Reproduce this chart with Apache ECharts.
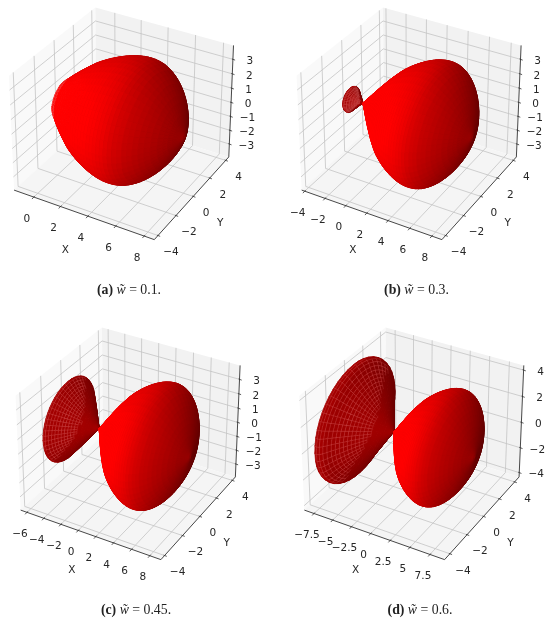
<!DOCTYPE html>
<html><head><meta charset="utf-8">
<style>html,body{margin:0;padding:0;background:#fff}#c{width:550px;height:621px}</style>
<script src="https://cdn.jsdelivr.net/npm/echarts@6/dist/echarts.min.js"></script>
</head><body><div id="c"></div>
<script>
// ---- values ----
const xTicksA=[0,2,4,6,8], xTicksB=[-4,-2,0,2,4,6,8], xTicksC=[-6,-4,-2,0,2,4,6,8], xTicksD=[-7.5,-5,-2.5,0,2.5,5,7.5];
const yTicks=[-4,-2,0,2,4];
const zTicksABC=[-3,-2,-1,0,1,2,3], zTicksD=[-4,-2,0,2,4];
const xLimA=[-1.5,8.7], xLimB=[-4.3,8.9], xLimC=[-6.75,9.2], xLimD=[-8.8,9.3];
const yLimABC=[-4.4,4.4], yLimD=[-4.6,4.6];
const zLimABC=[-3.95,3.95], zLimD=[-4.35,4.35];
const apexX=-2.35;
const rightT=[0,.1,.2,.35,.5,.75,1,1.25,1.5,1.75,2,2.25,2.5,2.75,3,3.25,3.5,3.75,4,4.25,4.5,4.75,5,5.25,5.5,5.75,6,6.25,6.5,6.75,7,7.25,7.5,7.75,8,8.25,8.5,8.75,9,9.25,9.5,9.7,9.85,10,10.1,10.2,10.3,10.35];
const rightR=[0,.085,.17,.3,.42,.63,.85,1.06,1.27,1.48,1.68,1.88,2.08,2.27,2.45,2.63,2.8,2.94,3.07,3.19,3.3,3.4,3.49,3.57,3.64,3.7,3.74,3.77,3.78,3.77,3.74,3.68,3.59,3.47,3.33,3.15,2.95,2.72,2.45,2.15,1.8,1.47,1.2,.88,.65,.42,.19,0];
const capXA=[-1.12,-1.1,-1.05,-.95,-.8,-.6,-.4], capRA=[0,.5,.85,1.12,1.3,1.45,1.62];
const leftTB=[0,.1,.2,.35,.5,.65,.8,.95,1.1,1.22,1.32,1.4,1.46,1.5];
const leftRB=[0,.075,.15,.27,.38,.49,.6,.72,.8,.78,.7,.55,.35,0];
const leftTC=[0,.1,.2,.4,.6,.8,1,1.2,1.4,1.6,1.8,2,2.2,2.4,2.6,2.8,3,3.2,3.4,3.55,3.7,3.8,3.9,3.95];
const leftRC=[0,.08,.16,.31,.47,.62,.78,.93,1.09,1.24,1.4,1.55,1.7,1.85,2,2.15,2.3,2.45,2.6,2.65,2.55,2.25,1.5,0];
const leftTD=[0,.1,.25,.5,.75,1,1.25,1.5,1.75,2,2.25,2.5,2.75,3,3.25,3.5,3.75,4,4.25,4.5,4.75,5,5.25,5.5,5.7,5.85,5.95,6];
const leftRD=[0,.09,.22,.44,.65,.87,1.09,1.3,1.52,1.74,1.96,2.17,2.39,2.61,2.83,3.05,3.27,3.5,3.75,3.98,4.15,4.22,4.2,3.95,3.4,2.7,1.8,0];
const captionTags=['(a)','(b)','(c)','(d)'], captionValues=['0.1','0.3','0.45','0.6'];
// ---- profiles assembled from the tables above ----
function twoLobes(lt,lr){
  return {sx:lt.map(t=>apexX-t).reverse().concat(rightT.slice(1).map(t=>apexX+t)), r:lr.slice().reverse().concat(rightR.slice(1))};
}
const lobeA={sx:capXA.concat(rightT.slice(10).map(t=>apexX+t)), r:capRA.concat(rightR.slice(10))};
// ---- layout ----
const panels=[
 Object.assign({cx:123.4,cy:118,cap:[124,287],xT:xTicksA,zT:zTicksABC,xL:xLimA,yL:yLimABC,zL:zLimABC,meshX:-.38,minArea:1},lobeA),
 Object.assign({cx:411,cy:118,cap:[411.5,287],xT:xTicksB,zT:zTicksABC,xL:xLimB,yL:yLimABC,zL:zLimABC,meshX:apexX,minArea:1},twoLobes(leftTB,leftRB)),
 Object.assign({cx:130,cy:438,cap:[131,607],xT:xTicksC,zT:zTicksABC,xL:xLimC,yL:yLimABC,zL:zLimABC,meshX:apexX,minArea:7},twoLobes(leftTC,leftRC)),
 Object.assign({cx:413.7,cy:438,cap:[415,607],xT:xTicksD,zT:zTicksD,xL:xLimD,yL:yLimD,zL:zLimD,meshX:apexX,minArea:10},twoLobes(leftTD,leftRD))
];
const BOX=[1.19,1.19,.893], KX=135, KY=146, AZ=48;
const LIGHT=[-.667,-.667,.333];
function view(p,x,y,z){
  const a=((x-p.xL[0])/(p.xL[1]-p.xL[0])-.5)*BOX[0], b=((y-p.yL[0])/(p.yL[1]-p.yL[0])-.5)*BOX[1], c=((z-p.zL[0])/(p.zL[1]-p.zL[0])-.5)*BOX[2];
  const xv=.866*a+.5*b, yv=-.25*a+.433*b+.866*c, zv=.433*a-.75*b+.5*c, f=10/(10-zv);
  return {sx:p.cx+KX*xv*f, sy:p.cy-KY*yv*f, d:zv};
}
function frame(p){
  const [x0,x1]=p.xL,[y0,y1]=p.yL,[z0,z1]=p.zL, L=[];
  const P=(x,y,z)=>{const v=view(p,x,y,z);return [v.sx,v.sy];};
  L.push({k:'poly',pts:[P(x0,y0,z0),P(x0,y1,z0),P(x0,y1,z1),P(x0,y0,z1)],c:'#f9f9f9'});
  L.push({k:'poly',pts:[P(x0,y1,z0),P(x1,y1,z0),P(x1,y1,z1),P(x0,y1,z1)],c:'#f2f2f2'});
  L.push({k:'poly',pts:[P(x0,y0,z0),P(x1,y0,z0),P(x1,y1,z0),P(x0,y1,z0)],c:'#f5f5f5'});
  const G='#c4c4c4';
  p.xT.forEach(t=>{L.push({k:'line',a:P(t,y0,z0),b:P(t,y1,z0),c:G,w:.8},{k:'line',a:P(t,y1,z0),b:P(t,y1,z1),c:G,w:.8});});
  yTicks.forEach(t=>{L.push({k:'line',a:P(x1,t,z0),b:P(x0,t,z0),c:G,w:.8},{k:'line',a:P(x0,t,z0),b:P(x0,t,z1),c:G,w:.8});});
  p.zT.forEach(t=>{L.push({k:'line',a:P(x0,y0,t),b:P(x0,y1,t),c:G,w:.8},{k:'line',a:P(x0,y1,t),b:P(x1,y1,t),c:G,w:.8});});
  const A='#333';
  L.push({k:'line',a:P(x0,y0,z0),b:P(x1,y0,z0),c:A,w:.9},{k:'line',a:P(x1,y0,z0),b:P(x1,y1,z0),c:A,w:.9},{k:'line',a:P(x1,y1,z0),b:P(x1,y1,z1),c:A,w:.9});
  const fmt=t=>String(t).replace('-','\u2212');
  const off=(q,dx,dy)=>[q[0]+dx,q[1]+dy];
  p.xT.forEach(t=>{const q=P(t,y0,z0);L.push({k:'line',a:off(q,.9,-1),b:off(q,-1.8,2),c:A,w:.8},{k:'text',p:off(q,-7,22),t:fmt(t)});});
  yTicks.forEach(t=>{const q=P(x1,t,z0);L.push({k:'line',a:off(q,-1,-.4),b:off(q,2.2,.8),c:A,w:.8},{k:'text',p:off(q,13,17),t:fmt(t)});});
  p.zT.forEach(t=>{const q=P(x1,y1,t);L.push({k:'line',a:off(q,-1,-.4),b:off(q,2.2,.8),c:A,w:.8},{k:'text',p:off(q,17,2),t:fmt(t)});});
  const mx=P((x0+x1)/2,y0,z0), my=P(x1,(y0+y1)/2,z0);
  L.push({k:'text',p:off(mx,-17,36),t:'X'},{k:'text',p:off(my,27,27),t:'Y'});
  return L;
}
function cells(p){
  const out=[], n=p.sx.length;
  for(let i=0;i<n-1;i++) for(let j=0;j<AZ;j++){
    const th=(j+.5)/AZ*2*Math.PI, rm=(p.r[i]+p.r[i+1])/2, xm=(p.sx[i]+p.sx[i+1])/2;
    out.push({i,j,d:view(p,xm,rm*Math.cos(th),rm*Math.sin(th)).d});
  }
  return out.sort((u,v)=>u.d-v.d);
}
function shade(p,c){
  const th=(c.j+.5)/AZ*2*Math.PI, dx=p.sx[c.i+1]-p.sx[c.i], dr=p.r[c.i+1]-p.r[c.i], len=Math.hypot(dx,dr)||1;
  const s=(-dr*LIGHT[0]+dx*Math.cos(th)*LIGHT[1]+dx*Math.sin(th)*LIGHT[2])/len;
  if(p.meshX===apexX && p.sx[c.i+1]<=apexX) return .6+.2*Math.min(s,.2);
  return .36+.34*(s+1);
}
function area(q){
  let a=0;
  for(let i=0;i<q.length;i++){const n=q[(i+1)%q.length];a+=q[i][0]*n[1]-n[0]*q[i][1];}
  return Math.abs(a)/2;
}
const series=[];
panels.forEach(p=>{
  const fr=frame(p);
  series.push({type:'custom',coordinateSystem:'cartesian2d',silent:true,animation:false,z:1,clip:false,data:fr.map((_,i)=>i),
    renderItem(params,api){
      const e=fr[api.value(0)];
      if(e.k==='poly') return {type:'polygon',shape:{points:e.pts.map(q=>api.coord(q))},style:{fill:e.c}};
      if(e.k==='line'){const a=api.coord(e.a),b=api.coord(e.b);return {type:'line',shape:{x1:a[0],y1:a[1],x2:b[0],y2:b[1]},style:{stroke:e.c,lineWidth:e.w}};}
      const q=api.coord(e.p);return {type:'text',x:q[0],y:q[1],style:{text:e.t,fill:'#262626',font:'10.5px "DejaVu Sans"',textAlign:'center',textVerticalAlign:'middle'}};
    }});
  const cs=cells(p);
  series.push({type:'custom',coordinateSystem:'cartesian2d',silent:true,animation:false,z:2,clip:false,progressive:0,data:cs.map((_,i)=>i),
    renderItem(params,api){
      const c=cs[api.value(0)], t0=c.j/AZ*2*Math.PI, t1=(c.j+1)/AZ*2*Math.PI;
      const V=(k,t)=>{const v=view(p,p.sx[k],p.r[k]*Math.cos(t),p.r[k]*Math.sin(t));return api.coord([v.sx,v.sy]);};
      const g=Math.round(255*Math.min(1,shade(p,c))), fill='rgb('+g+',0,0)';
      const pts=[V(c.i,t0),V(c.i+1,t0),V(c.i+1,t1),V(c.i,t1)];
      const mesh=p.sx[c.i+1]<=p.meshX && area(pts)>=p.minArea;
      const stroke=mesh?'rgba(235,130,130,0.42)':fill;
      return {type:'polygon',shape:{points:pts},style:{fill,stroke,lineWidth:mesh?.4:.6}};
    }});
});
const chart=echarts.init(document.getElementById('c'),null,{renderer:'canvas',width:550,height:621});
chart.setOption({animation:false,backgroundColor:'#fff',
  title:panels.map((p,i)=>({left:p.cap[0],top:p.cap[1]-9,textAlign:'center',text:'{b|'+captionTags[i]+'} {i|w\u0303} = '+captionValues[i]+'.',
    textStyle:{rich:{b:{fontFamily:'Liberation Serif',fontWeight:'bold',fontSize:13.8,color:'#222'},i:{fontFamily:'Liberation Serif',fontStyle:'italic',fontSize:13.8,color:'#222'}},fontFamily:'Liberation Serif',fontWeight:'normal',fontSize:13.8,color:'#222'}})),
  grid:{left:0,right:0,top:0,bottom:0},
  xAxis:{type:'value',min:0,max:550,show:false},
  yAxis:{type:'value',min:0,max:621,inverse:true,show:false},
  series});
</script></body></html>
